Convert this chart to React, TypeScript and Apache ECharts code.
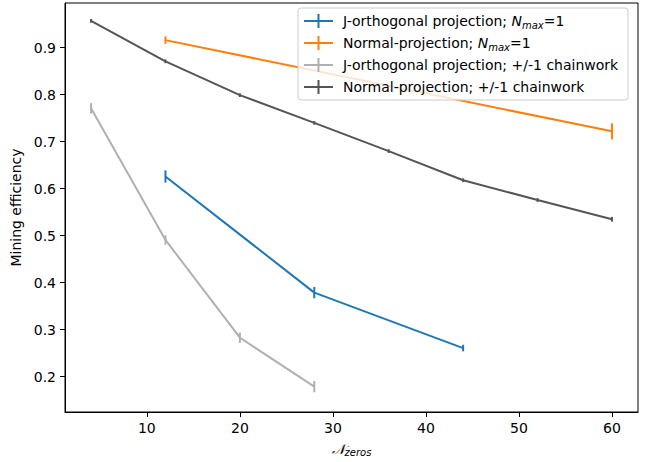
import React, { useEffect, useRef } from "react";
import * as echarts from "echarts";

const xJ1 = [12, 28, 44];
const yJ1 = [0.626, 0.379, 0.261];
const eJ1 = [0.013, 0.012, 0.007];

const xN1 = [12, 60];
const yN1 = [0.916, 0.722];
const eN1 = [0.008, 0.017];

const xJc = [4, 12, 20, 28];
const yJc = [0.771, 0.491, 0.283, 0.179];
const eJc = [0.011, 0.01, 0.011, 0.012];

const xNc = [4, 12, 20, 28, 36, 44, 52, 60];
const yNc = [0.957, 0.871, 0.799, 0.740, 0.680, 0.618, 0.576, 0.535];
const eNc = [0.004, 0.004, 0.004, 0.004, 0.004, 0.004, 0.004, 0.005];

const xTicks = [10, 20, 30, 40, 50, 60];
const yTicks = [0.2, 0.3, 0.4, 0.5, 0.6, 0.7, 0.8, 0.9];

const names = [
  "J-orthogonal projection; {i|N}{s|max}=1",
  "Normal-projection; {i|N}{s|max}=1",
  "J-orthogonal projection; +/-1 chainwork",
  "Normal-projection; +/-1 chainwork",
];
const colors = ["#1f77b4", "#ff7f0e", "#b0b0b0", "#555555"];

const FONT = "DejaVu Sans";
const FS = 14;

function build(xs: number[], ys: number[], es: number[]) {
  return xs.map((x, i) => [x, ys[i], es[i]]);
}

export default function App() {
  const ref = useRef<HTMLDivElement>(null);
  useEffect(() => {
    if (!ref.current) return;
    const chart = echarts.init(ref.current, null, { renderer: "svg" });
    const sets = [
      build(xJ1, yJ1, eJ1),
      build(xN1, yN1, eN1),
      build(xJc, yJc, eJc),
      build(xNc, yNc, eNc),
    ];
    const series: any[] = [];
    sets.forEach((d, k) => {
      series.push({
        type: "line",
        data: d.map((p) => [p[0], p[1]]),
        symbol: "none",
        lineStyle: { color: colors[k], width: 2 },
        z: 2 + k,
      });
      series.push({
        type: "custom",
        data: d,
        z: 2 + k,
        renderItem: (params: any, api: any) => {
          const x = api.value(0);
          const y = api.value(1);
          const e = api.value(2);
          const p1 = api.coord([x, y - e]);
          const p2 = api.coord([x, y + e]);
          return {
            type: "line",
            shape: { x1: p1[0], y1: p1[1], x2: p2[0], y2: p2[1] },
            style: { stroke: colors[k], lineWidth: 2 },
          };
        },
      });
    });

    const rowY = [21, 43, 65, 87];
    const legendEls: any[] = [
      {
        type: "rect",
        shape: { x: 298, y: 8, width: 330, height: 92, r: 3 },
        style: { fill: "rgba(255,255,255,0.8)", stroke: "#cccccc", lineWidth: 1 },
        z: 100,
      },
    ];
    rowY.forEach((ry, k) => {
      legendEls.push({
        type: "line",
        shape: { x1: 304, y1: ry, x2: 333, y2: ry },
        style: { stroke: colors[k], lineWidth: 2 },
        z: 101,
      });
      legendEls.push({
        type: "line",
        shape: { x1: 318.5, y1: ry - 7, x2: 318.5, y2: ry + 7 },
        style: { stroke: colors[k], lineWidth: 2 },
        z: 101,
      });
      legendEls.push({
        type: "text",
        x: 343,
        y: ry,
        style: {
          text: names[k],
          fontFamily: FONT,
          fontSize: FS,
          fill: "#000",
          verticalAlign: "middle",
          rich: {
            i: { fontFamily: FONT, fontSize: FS, fontStyle: "italic", fill: "#000" },
            s: {
              fontFamily: FONT,
              fontSize: 10,
              fontStyle: "italic",
              fill: "#000",
              padding: [8, 0, 0, 0],
            },
          },
        },
        z: 101,
      });
    });

    chart.setOption({
      animation: false,
      grid: {
        left: 65,
        right: 11,
        top: 3,
        bottom: 50,
        show: true,
        borderColor: "#000",
        borderWidth: 1,
        backgroundColor: "transparent",
      },
      xAxis: {
        type: "value",
        min: 1.2,
        max: 62.8,
        name: "{n|𝒩}{s|zeros}",
        nameLocation: "middle",
        nameGap: 28,
        nameTextStyle: {
          rich: {
            n: { fontFamily: FONT, fontSize: FS, fontStyle: "italic", color: "#000" },
            s: { fontFamily: FONT, fontSize: 10, fontStyle: "italic", color: "#000", padding: [7, 0, 0, 0] },
          },
        },
        splitLine: { show: false },
        axisLine: { show: true, lineStyle: { color: "#000", width: 1 } },
        axisTick: { show: true, length: 5, customValues: xTicks, lineStyle: { color: "#000" } },
        axisLabel: {
          customValues: xTicks,
          margin: 9,
          fontFamily: FONT,
          fontSize: FS,
          color: "#000",
        },
      },
      yAxis: {
        type: "value",
        min: 0.125,
        max: 0.995,
        name: "Mining efficiency",
        nameLocation: "middle",
        nameGap: 38,
        nameTextStyle: { fontFamily: FONT, fontSize: FS, color: "#000" },
        splitLine: { show: false },
        axisLine: { show: true, lineStyle: { color: "#000", width: 1 } },
        axisTick: { show: true, length: 5, customValues: yTicks, lineStyle: { color: "#000" } },
        axisLabel: {
          customValues: yTicks,
          margin: 9,
          fontFamily: FONT,
          fontSize: FS,
          color: "#000",
          formatter: (v: number) => v.toFixed(1),
        },
      },
      series,
      graphic: legendEls,
    });
    return () => chart.dispose();
  }, []);
  return (
    <div
      ref={ref}
      style={{ position: "absolute", left: 0, top: 0, width: 649, height: 462 }}
    />
  );
}
